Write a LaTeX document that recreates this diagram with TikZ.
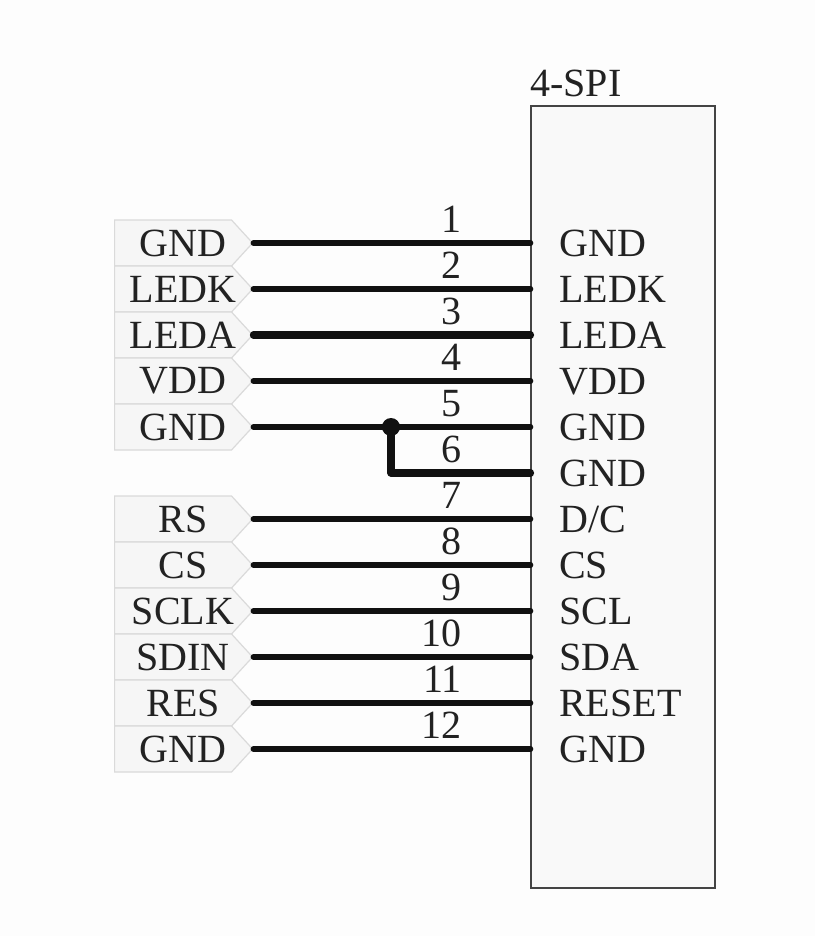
\documentclass[tikz,border=0pt]{standalone}
\usepackage{fontspec}
\setmainfont{Liberation Serif}
\usetikzlibrary{shapes.symbols}
\definecolor{bgc}{HTML}{FDFDFD}
\definecolor{ink}{HTML}{222222}
\definecolor{wirec}{HTML}{111111}
\definecolor{tagfill}{HTML}{F6F6F6}
\definecolor{tagline}{HTML}{DADADA}
\definecolor{boxfill}{HTML}{F9F9F9}
\definecolor{boxline}{HTML}{444444}
\tikzset{
  x=0.75pt,y=-0.75pt,
  lab/.style={font=\fontsize{30}{30}\selectfont,text=ink,inner sep=0pt},
  tag/.style={shape=signal,signal to=east,signal pointer angle=95,draw=tagline,fill=tagfill,line width=0.9pt,
     minimum width=103.5pt,minimum height=34.5pt,inner sep=0pt,font=\fontsize{30}{30}\selectfont,text=ink,anchor=west},
  wire/.style={draw=wirec,line width=4.2pt,line cap=round,line join=round},
  thickwire/.style={wire,line width=5.4pt},
  stub/.style={wire,line width=5.4pt},
  chip/.style={draw=boxline,fill=boxfill,line width=1.5pt,inner sep=0pt,minimum width=138pt,minimum height=586.5pt,anchor=north west},
  dot/.style={circle,fill=wirec,inner sep=0pt,minimum size=13.5pt},
}
\begin{document}
\begin{tikzpicture}
\path[use as bounding box,fill=bgc] (0,0) rectangle (815,936);
\node[chip] (ic) at (530,105) {};
\node[lab,anchor=base west] (title) at (530,96) {4-SPI};
% left tags
\foreach \n/\y/\t in {a1/243/GND,a2/289/LEDK,a3/335/LEDA,a4/381/VDD,a5/427/GND,a7/519/RS,a8/565/CS,a9/611/SCLK,a10/657/SDIN,a11/703/RES,a12/749/GND}
  \node[tag] (\n) at (114,\y) {\hspace*{15pt}\makebox[0pt][c]{\t}};
% right pin labels
\foreach \n/\y/\t in {b1/243/GND,b2/289/LEDK,b3/335/LEDA,b4/381/VDD,b5/427/GND,b6/473/GND,b7/519/{D/C},b8/565/CS,b9/611/SCL,b10/657/SDA,b11/703/RESET,b12/749/GND}
  \node[lab,anchor=base west] (\n) at (559,\y+13) {\t};
% pin ends
\foreach \n/\y in {1/243,2/289,3/335,4/381,5/427,6/473,7/519,8/565,9/611,10/657,11/703,12/749}{
  \coordinate (p\n) at (530.5,\y);
  \node[lab,anchor=base east] (num\n) at (462,\y-11) {\n};
}
% wires
\foreach \n in {1,2,4,5,7,8,9,10,11,12}
  \draw[wire] (a\n.east) -- (p\n);
\draw[thickwire] (a3.east) -- (p3);
\node[dot] (j) at (391,427) {};
\draw[stub] (j.center) |- (p6);
\end{tikzpicture}
\end{document}
